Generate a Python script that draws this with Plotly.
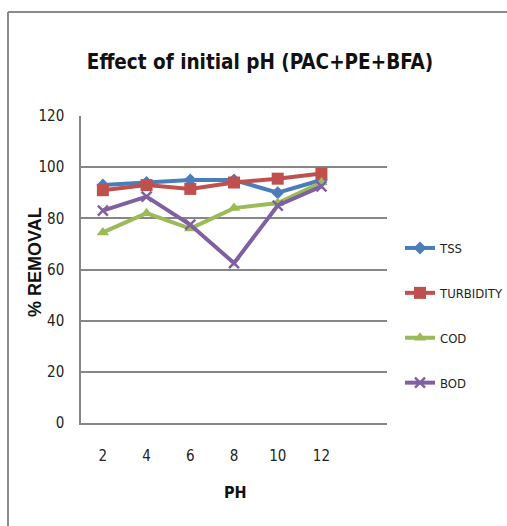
import plotly.graph_objects as go

# pH values tested and percentage removal per parameter
ph = [2, 4, 6, 8, 10, 12]
tss = [93, 94, 95, 95, 90, 95]
turbidity = [91, 93, 91.5, 94, 95.5, 97.5]
cod = [74.5, 82, 76, 84, 86, 94]
bod = [83, 88.5, 77.5, 62.5, 85, 92.5]

y_ticks = [0, 20, 40, 60, 80, 100, 120]

series = [
    ("TSS", tss, "#4A7EBB", dict(symbol="diamond", size=10)),
    ("TURBIDITY", turbidity, "#C0504D", dict(symbol="square", size=12)),
    ("COD", cod, "#9BBB59", dict(symbol="triangle-up", size=11)),
    ("BOD", bod, "#7F60A0", dict(symbol="x-thin", size=10, line=dict(width=2.5))),
]

fig = go.Figure()
for name, vals, color, marker in series:
    mk = dict(color=color, **{k: v for k, v in marker.items() if k != "line"})
    if "line" in marker:
        mk["line"] = dict(color=color, width=marker["line"]["width"])
    fig.add_trace(go.Scatter(
        x=ph, y=vals, name=name, mode="lines+markers",
        line=dict(color=color, width=4),
        marker=mk, legendgroup=name,
    ))

narrow = "DejaVu Sans Condensed, Liberation Sans Narrow, Roboto, sans-serif"

fig.update_layout(
    width=507, height=526,
    margin=dict(l=81, r=120, t=116, b=103, autoexpand=False),
    paper_bgcolor="white", plot_bgcolor="white",
    title=dict(
        text="<b>Effect of initial pH (PAC+PE+BFA)</b>",
        font=dict(family=narrow, size=20.5, color="#111111"),
        x=(260 - 81) / 306, xref="paper", xanchor="center",
        y=1 - 62 / 526, yanchor="middle",
    ),
    xaxis=dict(
        range=[1, 15], tickvals=ph, ticktext=[str(v) for v in ph],
        showgrid=False, zeroline=False,
        showline=True, linecolor="#868686", linewidth=1.5,
        ticks="", ticklabelstandoff=18,
        tickfont=dict(family=narrow, size=15, color="#222222"),
    ),
    yaxis=dict(
        range=[0, 120], tickvals=y_ticks,
        showgrid=True, gridcolor="#868686", gridwidth=1.5,
        zeroline=False,
        showline=True, linecolor="#868686", linewidth=1.5,
        ticks="", ticklabelstandoff=12,
        tickfont=dict(family=narrow, size=15, color="#222222"),
    ),
    legend=dict(
        x=(400 - 81) / 306, y=1 - (233 - 116) / 307, xanchor="left", yanchor="top",
        font=dict(family=narrow, size=13, color="#222222"),
        tracegroupgap=25, itemwidth=30,
        bgcolor="rgba(0,0,0,0)",
    ),
    showlegend=True,
)

# axis titles
fig.add_annotation(text="<b>PH</b>", xref="paper", yref="paper",
                   x=(235 - 81) / 306, y=(423 - 492) / 307,
                   showarrow=False, xanchor="center", yanchor="middle",
                   font=dict(family=narrow, size=16, color="#111111"))
fig.add_annotation(text="<b>% REMOVAL</b>", xref="paper", yref="paper",
                   x=(35 - 81) / 306, y=(423 - 262) / 307, textangle=-90,
                   showarrow=False, xanchor="center", yanchor="middle",
                   font=dict(family="Liberation Sans, Arial, sans-serif", size=18, color="#111111"))

# outer chart frame: left and top edges
frame = dict(color="#8a8a8a", width=2)
fig.add_shape(type="line", xref="paper", yref="paper",
              x0=(8 - 81) / 306, x1=(8 - 81) / 306,
              y0=(423 - 526) / 307, y1=(423 - 12) / 307, line=frame)
fig.add_shape(type="line", xref="paper", yref="paper",
              x0=(8 - 81) / 306, x1=(507 - 81) / 306,
              y0=(423 - 12) / 307, y1=(423 - 12) / 307, line=frame)

fig.write_html("out.html")
